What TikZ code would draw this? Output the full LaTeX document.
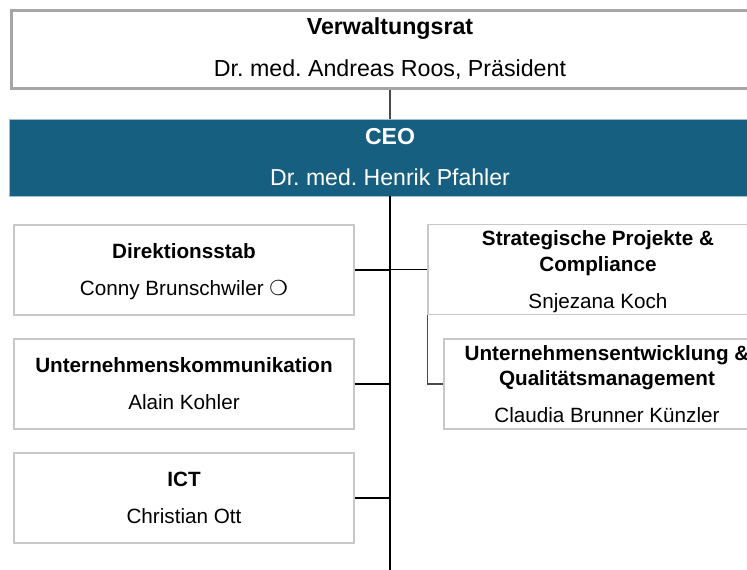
\documentclass[tikz,border=0pt]{standalone}
\usepackage{fontspec}
\setmainfont{Liberation Sans}
\newfontfamily\symfont{DejaVu Sans}
\frenchspacing
\definecolor{ceoblue}{HTML}{175F80}
\definecolor{framegray}{HTML}{A6A6A6}
\definecolor{boxgray}{HTML}{C8C8C8}
\definecolor{linkgray}{HTML}{4A4A4A}
\tikzset{
  unitbox/.style={draw=boxgray, line width=0.9pt, fill=white, align=center,
    inner sep=0pt, minimum width=255pt, minimum height=67.5pt, text depth=0pt,
    font=\fontsize{15.5}{19}\selectfont},
  link/.style={line width=1.1pt, draw=black}
}
\begin{document}
\begin{tikzpicture}[x=0.75pt,y=-0.75pt]
  \useasboundingbox (0,0) rectangle (747,569);
  \clip (0,0) rectangle (747,569);
  % verwaltungsrat
  \node[draw=framegray, line width=2.25pt, fill=white, align=center,
    minimum width=568.5pt, minimum height=58.5pt,
    font=\fontsize{17.4}{31.5}\selectfont] (vr) at (390,49)
    {\bfseries Verwaltungsrat\\Dr. med. Andreas Roos, Präsident};
  % ceo
  \node[fill=ceoblue, draw=ceoblue!40, line width=0.6pt, text=white, align=center,
    minimum width=571.5pt, minimum height=57.75pt,
    font=\fontsize{17.3}{30.75}\selectfont] (ceo) at (390,157.5)
    {\bfseries CEO\\Dr. med. Henrik Pfahler};

  % stabsstellen links
  \node[unitbox] (dir) at (184,270)
    {\bfseries Direktionsstab\\[8.75pt]Conny Brunschwiler {\symfont ❍}};
  \node[unitbox] (uk) at (184,384)
    {\bfseries Unternehmenskommunikation\\[8.75pt]Alain Kohler};
  \node[unitbox] (ict) at (184,498)
    {\bfseries ICT\\[8.75pt]Christian Ott};
  % stabsstellen rechts
  \node[unitbox] (sp) at (598,269.5)
    {\bfseries Strategische Projekte \&\\\bfseries Compliance\\[8.75pt]Snjezana Koch};
  \node[unitbox, minimum width=244.5pt] (ue) at (607,384)
    {\bfseries Unternehmensentwicklung \&\\\bfseries Qualitätsmanagement\\[8.75pt]Claudia Brunner Künzler};

  % linien
  \coordinate (end) at (390,575);
  \draw[link, draw=linkgray] (vr.south) -- (ceo.north);
  \draw[link] (ceo.south) -- (end);
  \draw[link] (dir.east) -- (dir.east -| ceo.south);
  \draw[link] (uk.east) -- (uk.east -| ceo.south);
  \draw[link] (ict.east) -- (ict.east -| ceo.south);
  \draw[link] (sp.west) -- (sp.west -| ceo.south);
  \draw[link, draw=linkgray] (sp.south west) |- (ue.west);
\end{tikzpicture}
\end{document}
